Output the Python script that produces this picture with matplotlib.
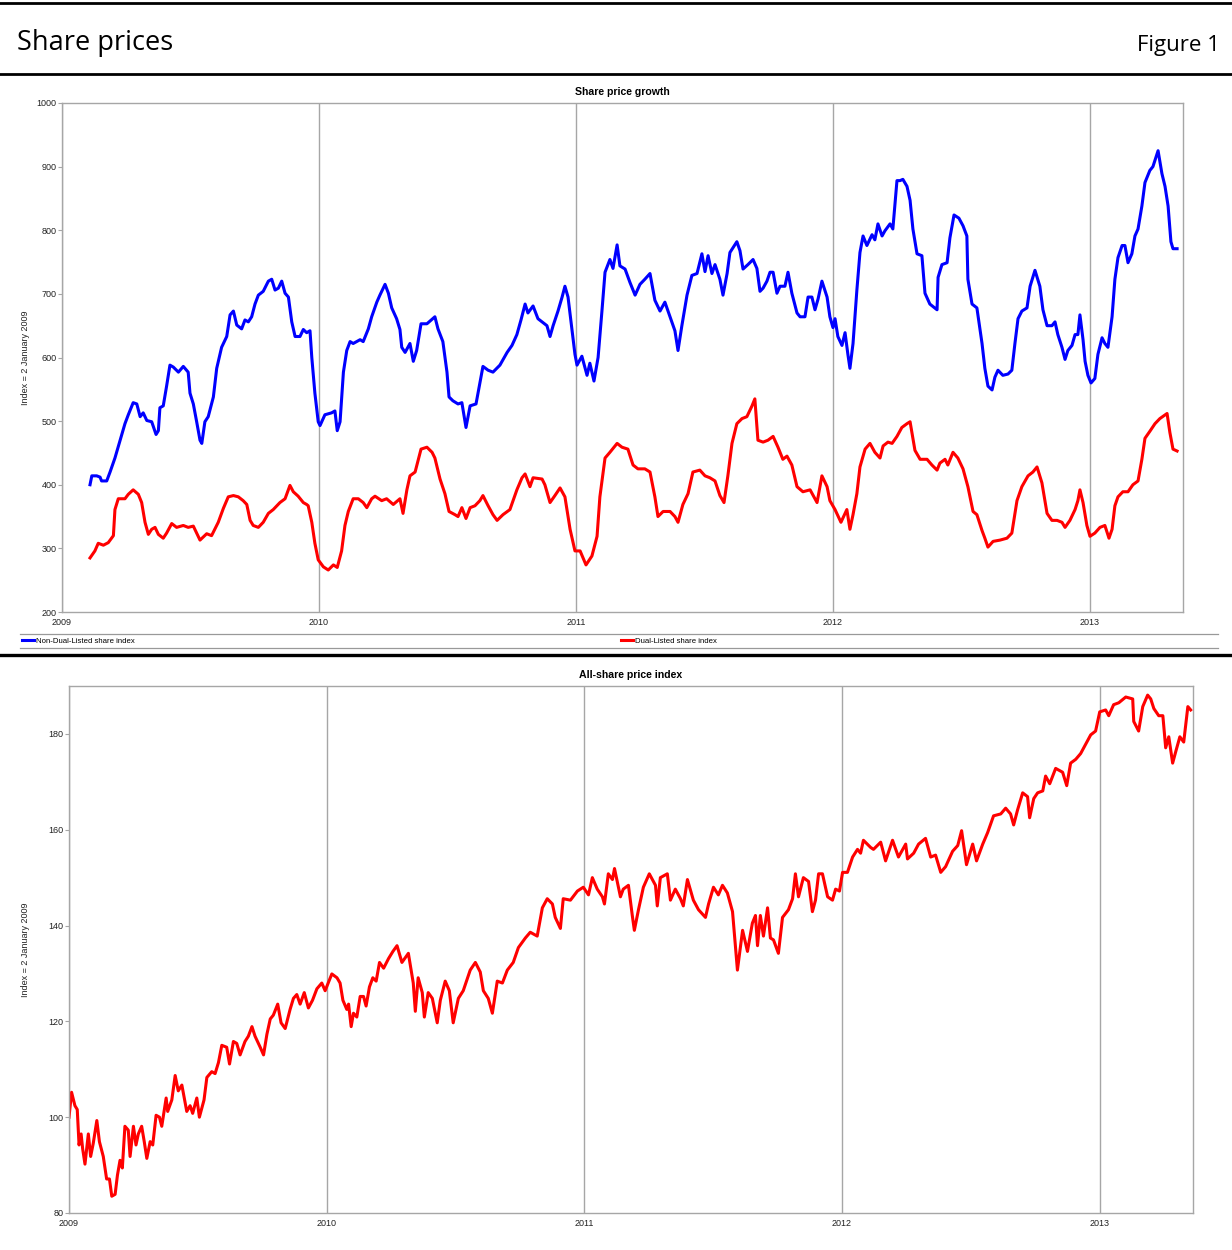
import numpy as np
import matplotlib
matplotlib.use("Agg")
import matplotlib.pyplot as plt
from matplotlib.lines import Line2D

plt.rcParams['font.family'] = ['Liberation Sans', 'DejaVu Sans']

# time is given as years after 1 January 2009
non_dual_t = [
    0.109, 0.116, 0.135, 0.148, 0.154, 0.174, 0.187, 0.206, 0.226, 0.245,
    0.258, 0.277, 0.291, 0.304, 0.316, 0.330, 0.349, 0.366, 0.375, 0.381,
    0.394, 0.407, 0.420, 0.433, 0.453, 0.472, 0.491, 0.498, 0.511, 0.524,
    0.537, 0.544, 0.556, 0.569, 0.589, 0.602, 0.621, 0.641, 0.654, 0.667,
    0.680, 0.699, 0.712, 0.725, 0.738, 0.751, 0.764, 0.783, 0.803, 0.816,
    0.829, 0.842, 0.855, 0.868, 0.881, 0.894, 0.907, 0.926, 0.939, 0.952,
    0.965, 0.972, 0.984, 0.997, 1.004, 1.023, 1.049, 1.062, 1.071, 1.082,
    1.095, 1.108, 1.121, 1.133, 1.160, 1.172, 1.192, 1.205, 1.225, 1.237,
    1.257, 1.270, 1.283, 1.302, 1.315, 1.322, 1.335, 1.354, 1.367, 1.380,
    1.397, 1.420, 1.451, 1.463, 1.482, 1.498, 1.506, 1.521, 1.541, 1.556,
    1.572, 1.588, 1.611, 1.626, 1.638, 1.658, 1.677, 1.704, 1.732, 1.751,
    1.770, 1.786, 1.802, 1.813, 1.833, 1.852, 1.887, 1.899, 1.911, 1.930,
    1.946, 1.957, 1.969, 1.984, 1.996, 2.004, 2.023, 2.043, 2.054, 2.070,
    2.086, 2.101, 2.113, 2.132, 2.144, 2.160, 2.171, 2.191, 2.210, 2.230,
    2.249, 2.268, 2.288, 2.307, 2.327, 2.346, 2.366, 2.385, 2.397, 2.412,
    2.432, 2.451, 2.471, 2.490, 2.502, 2.514, 2.529, 2.541, 2.560, 2.572,
    2.588, 2.599, 2.626, 2.638, 2.650, 2.669, 2.689, 2.704, 2.716, 2.728,
    2.743, 2.755, 2.767, 2.782, 2.794, 2.813, 2.825, 2.840, 2.860, 2.872,
    2.891, 2.903, 2.918, 2.930, 2.942, 2.957, 2.977, 2.988, 3.000, 3.008,
    3.019, 3.035, 3.047, 3.058, 3.066, 3.078, 3.093, 3.105, 3.117, 3.132,
    3.152, 3.163, 3.175, 3.191, 3.202, 3.222, 3.233, 3.249, 3.261, 3.272,
    3.288, 3.300, 3.311, 3.327, 3.346, 3.358, 3.377, 3.405, 3.409, 3.424,
    3.444, 3.455, 3.471, 3.490, 3.506, 3.521, 3.525, 3.541, 3.560, 3.580,
    3.591, 3.603, 3.619, 3.630, 3.642, 3.661, 3.681, 3.696, 3.708, 3.720,
    3.735, 3.755, 3.767, 3.786, 3.805, 3.817, 3.833, 3.852, 3.864, 3.875,
    3.891, 3.903, 3.914, 3.930, 3.942, 3.953, 3.961, 3.973, 3.981, 3.992,
    4.004, 4.019, 4.031, 4.047, 4.058, 4.070, 4.086, 4.097, 4.109, 4.125,
    4.136, 4.148, 4.163, 4.175, 4.187, 4.202, 4.214, 4.233, 4.245, 4.265,
    4.280, 4.292, 4.304, 4.315, 4.323, 4.339,
]
non_dual_v = [
    400, 414, 414, 412, 406, 406, 420, 442, 470, 496,
    510, 529, 527, 507, 513, 501, 499, 479, 485, 521,
    524, 555, 588, 585, 577, 586, 577, 544, 527, 499,
    470, 465, 499, 507, 538, 583, 616, 633, 667, 673,
    651, 645, 659, 656, 664, 684, 698, 704, 720, 723,
    706, 709, 720, 701, 695, 656, 633, 633, 644, 639,
    642, 600, 544, 499, 493, 510, 513, 516, 485, 499,
    577, 611, 625, 622, 628, 625, 645, 664, 687, 698,
    715, 701, 678, 661, 644, 616, 608, 622, 594, 611,
    653, 653, 664, 645, 625, 577, 538, 532, 527, 529,
    490, 524, 527, 560, 586, 580, 577, 588, 608, 619,
    636, 659, 684, 670, 681, 661, 650, 633, 650, 673,
    695, 712, 695, 645, 605, 588, 602, 572, 591, 563,
    600, 673, 734, 754, 740, 777, 744, 739, 718, 698,
    715, 723, 732, 690, 673, 687, 664, 642, 611, 650,
    698, 729, 732, 763, 735, 760, 732, 746, 723, 698,
    732, 765, 782, 768, 739, 746, 754, 740, 704, 709,
    720, 734, 734, 701, 712, 712, 734, 701, 670, 664,
    664, 695, 695, 675, 692, 720, 695, 664, 647, 661,
    633, 619, 639, 605, 583, 622, 706, 765, 791, 776,
    793, 785, 810, 791, 799, 810, 802, 878, 878, 880,
    869, 847, 802, 763, 760, 701, 684, 675, 726, 746,
    749, 788, 824, 819, 807, 791, 723, 684, 678, 622,
    583, 555, 549, 569, 580, 572, 574, 580, 622, 661,
    673, 678, 712, 737, 712, 675, 650, 650, 656, 636,
    616, 597, 611, 619, 636, 636, 667, 628, 594, 572,
    560, 567, 605, 631, 622, 616, 664, 723, 757, 776,
    776, 749, 763, 791, 802, 838, 875, 894, 900, 925,
    889, 869, 838, 782, 771, 771,
]

dual_t = [
    0.109, 0.128, 0.141, 0.161, 0.180, 0.200, 0.206, 0.219, 0.245, 0.258,
    0.277, 0.297, 0.310, 0.323, 0.336, 0.349, 0.362, 0.375, 0.394, 0.407,
    0.427, 0.446, 0.472, 0.491, 0.511, 0.537, 0.563, 0.582, 0.608, 0.628,
    0.647, 0.667, 0.686, 0.705, 0.719, 0.732, 0.744, 0.764, 0.783, 0.803,
    0.822, 0.848, 0.868, 0.887, 0.900, 0.919, 0.939, 0.952, 0.958, 0.972,
    0.984, 0.997, 1.017, 1.036, 1.056, 1.071, 1.088, 1.101, 1.114, 1.133,
    1.153, 1.172, 1.186, 1.205, 1.218, 1.244, 1.263, 1.289, 1.315, 1.327,
    1.342, 1.354, 1.374, 1.385, 1.397, 1.420, 1.440, 1.451, 1.471, 1.490,
    1.506, 1.529, 1.541, 1.556, 1.572, 1.588, 1.607, 1.626, 1.638, 1.658,
    1.677, 1.693, 1.716, 1.743, 1.770, 1.790, 1.802, 1.821, 1.833, 1.868,
    1.879, 1.899, 1.918, 1.938, 1.957, 1.977, 1.996, 2.016, 2.039, 2.062,
    2.082, 2.093, 2.113, 2.132, 2.160, 2.179, 2.202, 2.222, 2.241, 2.268,
    2.288, 2.307, 2.319, 2.339, 2.366, 2.385, 2.397, 2.416, 2.436, 2.455,
    2.482, 2.502, 2.521, 2.541, 2.560, 2.576, 2.591, 2.607, 2.626, 2.646,
    2.665, 2.685, 2.696, 2.708, 2.728, 2.747, 2.767, 2.786, 2.805, 2.821,
    2.840, 2.860, 2.883, 2.911, 2.938, 2.957, 2.977, 2.988, 3.008, 3.031,
    3.054, 3.066, 3.078, 3.093, 3.105, 3.125, 3.144, 3.163, 3.183, 3.195,
    3.214, 3.230, 3.249, 3.268, 3.288, 3.300, 3.319, 3.339, 3.366, 3.385,
    3.405, 3.416, 3.436, 3.447, 3.467, 3.486, 3.506, 3.525, 3.545, 3.560,
    3.580, 3.591, 3.603, 3.623, 3.650, 3.677, 3.696, 3.716, 3.735, 3.759,
    3.778, 3.794, 3.813, 3.833, 3.852, 3.872, 3.891, 3.903, 3.922, 3.942,
    3.953, 3.961, 3.973, 3.988, 4.000, 4.019, 4.039, 4.058, 4.074, 4.086,
    4.097, 4.109, 4.128, 4.148, 4.167, 4.187, 4.202, 4.214, 4.233, 4.253,
    4.272, 4.300, 4.311, 4.323, 4.339,
]
dual_v = [
    285, 296, 308, 305, 309, 320, 361, 378, 378, 385,
    392, 385, 372, 341, 322, 330, 333, 322, 316, 324,
    339, 333, 336, 333, 335, 313, 323, 320, 341, 363,
    381, 383, 381, 375, 369, 344, 336, 333, 341, 355,
    361, 372, 378, 399, 389, 382, 372, 369, 367, 341,
    308, 282, 271, 266, 274, 270, 296, 336, 358, 378,
    378, 372, 364, 378, 382, 375, 378, 369, 378, 355,
    392, 414, 420, 437, 456, 459, 451, 442, 409, 386,
    358, 353, 350, 364, 347, 364, 367, 375, 383, 367,
    353, 344, 353, 361, 392, 411, 417, 397, 411, 409,
    400, 372, 383, 395, 381, 330, 296, 296, 274, 288,
    319, 381, 442, 451, 465, 459, 456, 431, 425, 425,
    420, 381, 350, 358, 358, 350, 341, 369, 386, 420,
    423, 414, 411, 406, 383, 372, 414, 465, 496, 504,
    507, 524, 535, 470, 467, 470, 476, 459, 440, 445,
    431, 397, 389, 392, 372, 414, 397, 375, 361, 341,
    361, 330, 353, 386, 428, 456, 465, 451, 442, 461,
    467, 465, 476, 490, 496, 499, 454, 440, 440, 431,
    423, 434, 440, 431, 451, 442, 425, 397, 358, 353,
    328, 316, 302, 311, 313, 316, 324, 375, 397, 414,
    420, 428, 403, 355, 344, 344, 341, 333, 344, 361,
    375, 392, 372, 336, 319, 324, 333, 336, 316, 330,
    367, 381, 389, 389, 400, 406, 440, 473, 484, 496,
    504, 512, 482, 456, 453,
]

all_share_t = [
    0.000, 0.010, 0.023, 0.032, 0.039, 0.047, 0.053, 0.062, 0.075, 0.084,
    0.094, 0.108, 0.118, 0.133, 0.146, 0.157, 0.166, 0.179, 0.188, 0.198,
    0.207, 0.217, 0.230, 0.237, 0.250, 0.260, 0.269, 0.282, 0.292, 0.302,
    0.315, 0.325, 0.338, 0.351, 0.360, 0.377, 0.383, 0.399, 0.412, 0.424,
    0.438, 0.457, 0.470, 0.480, 0.496, 0.506, 0.524, 0.535, 0.554, 0.567,
    0.580, 0.593, 0.612, 0.623, 0.638, 0.651, 0.664, 0.683, 0.696, 0.710,
    0.722, 0.742, 0.755, 0.768, 0.781, 0.793, 0.810, 0.823, 0.839, 0.858,
    0.871, 0.884, 0.897, 0.913, 0.929, 0.945, 0.962, 0.981, 0.994, 1.006,
    1.020, 1.040, 1.052, 1.063, 1.078, 1.085, 1.095, 1.104, 1.117, 1.130,
    1.143, 1.153, 1.166, 1.179, 1.192, 1.205, 1.221, 1.240, 1.257, 1.273,
    1.292, 1.317, 1.336, 1.344, 1.355, 1.371, 1.379, 1.394, 1.410, 1.429,
    1.441, 1.460, 1.476, 1.491, 1.511, 1.530, 1.557, 1.577, 1.596, 1.608,
    1.627, 1.643, 1.662, 1.682, 1.701, 1.724, 1.744, 1.771, 1.790, 1.817,
    1.837, 1.856, 1.876, 1.887, 1.907, 1.918, 1.946, 1.973, 1.996, 2.016,
    2.031, 2.050, 2.070, 2.078, 2.093, 2.109, 2.117, 2.140, 2.151, 2.171,
    2.186, 2.194, 2.210, 2.229, 2.252, 2.276, 2.283, 2.295, 2.322, 2.334,
    2.353, 2.373, 2.384, 2.400, 2.423, 2.443, 2.470, 2.482, 2.501, 2.520,
    2.536, 2.555, 2.575, 2.594, 2.614, 2.633, 2.652, 2.664, 2.672, 2.683,
    2.695, 2.711, 2.722, 2.734, 2.753, 2.769, 2.792, 2.808, 2.819, 2.831,
    2.850, 2.870, 2.885, 2.897, 2.909, 2.924, 2.944, 2.963, 2.975, 2.990,
    3.002, 3.021, 3.041, 3.060, 3.072, 3.083, 3.111, 3.122, 3.150, 3.169,
    3.196, 3.219, 3.247, 3.254, 3.278, 3.297, 3.324, 3.344, 3.363, 3.383,
    3.402, 3.429, 3.449, 3.464, 3.483, 3.507, 3.522, 3.546, 3.565, 3.588,
    3.616, 3.635, 3.654, 3.666, 3.681, 3.701, 3.720, 3.728, 3.744, 3.759,
    3.779, 3.790, 3.806, 3.829, 3.856, 3.872, 3.887, 3.907, 3.926, 3.946,
    3.965, 3.984, 4.000, 4.023, 4.035, 4.054, 4.074, 4.101, 4.128, 4.132,
    4.151, 4.167, 4.186, 4.198, 4.210, 4.229, 4.245, 4.256, 4.268, 4.283,
    4.295, 4.311, 4.326, 4.342, 4.353,
]
all_share_v = [
    100.0, 105.2, 102.4, 101.6, 94.2, 96.5, 93.4, 90.2, 96.5, 91.8,
    94.5, 99.3, 94.9, 91.8, 87.1, 87.1, 83.5, 83.9, 87.9, 91.0,
    89.4, 98.1, 97.3, 91.8, 98.1, 94.2, 96.5, 98.1, 94.9, 91.4,
    94.9, 94.2, 100.4, 100.0, 98.1, 104.0, 101.2, 103.6, 108.7, 105.5,
    106.7, 101.2, 102.4, 100.8, 104.0, 100.0, 103.6, 108.3, 109.5, 109.1,
    111.4, 115.0, 114.6, 111.1, 115.8, 115.4, 113.0, 115.8, 116.9, 118.9,
    116.9, 114.6, 113.0, 117.3, 120.5, 121.3, 123.6, 119.7, 118.5, 122.5,
    124.8, 125.6, 123.6, 126.0, 122.8, 124.4, 126.8, 128.0, 126.4, 128.0,
    129.9, 129.1, 128.0, 124.4, 122.5, 123.6, 118.9, 121.7, 120.9, 125.2,
    125.2, 123.2, 127.2, 129.1, 128.4, 132.3, 131.1, 133.1, 134.6, 135.8,
    132.3, 134.2, 128.0, 122.1, 129.1, 126.0, 120.9, 126.0, 124.8, 119.7,
    124.4, 128.4, 126.4, 119.7, 124.8, 126.4, 130.7, 132.3, 130.3, 126.4,
    124.8, 121.7, 128.4, 128.0, 130.7, 132.3, 135.4, 137.4, 138.6, 137.8,
    143.7, 145.6, 144.5, 141.7, 139.4, 145.6, 145.3, 147.2, 148.0, 146.4,
    150.0, 147.6, 146.0, 144.5, 150.8, 149.6, 151.9, 146.0, 147.6, 148.4,
    142.1, 139.0, 143.3, 148.0, 150.8, 148.4, 144.1, 150.0, 150.8, 145.3,
    147.6, 145.6, 144.1, 149.6, 145.3, 143.3, 141.7, 144.5, 148.0, 146.4,
    148.4, 146.8, 142.9, 130.7, 139.0, 134.6, 140.5, 142.1, 135.8, 142.1,
    137.8, 143.7, 137.4, 137.0, 134.2, 141.7, 143.3, 145.6, 150.8, 146.0,
    150.0, 149.2, 142.9, 145.3, 150.8, 150.8, 146.0, 145.3, 147.6, 147.2,
    151.1, 151.1, 154.3, 155.9, 155.1, 157.8, 156.3, 155.9, 157.4, 153.5,
    157.8, 154.3, 157.0, 153.9, 155.1, 157.0, 158.2, 154.3, 154.7, 151.1,
    152.3, 155.5, 156.7, 159.8, 152.7, 157.0, 153.5, 157.0, 159.4, 162.9,
    163.3, 164.5, 163.3, 161.0, 164.1, 167.7, 166.9, 162.5, 166.5, 167.7,
    168.1, 171.2, 169.6, 172.8, 172.0, 169.2, 173.9, 174.7, 175.9, 177.9,
    179.8, 180.6, 184.6, 185.0, 183.8, 186.1, 186.5, 187.7, 187.3, 182.6,
    180.6, 185.7, 188.1, 187.3, 185.3, 183.8, 183.8, 177.1, 179.4, 173.9,
    176.3, 179.4, 178.3, 185.7, 185.0,
]

year_ticks = [2009, 2010, 2011, 2012, 2013]
growth_ticks = [200, 300, 400, 500, 600, 700, 800, 900, 1000]
all_share_ticks = [80, 100, 120, 140, 160, 180]

W, H = 1232, 1250
fig = plt.figure(figsize=(W / 100, H / 100), dpi=100)
GRAY = '#a6a6a6'


def px_axes(x0, y0, x1, y1):
    return fig.add_axes([x0 / W, 1 - y1 / H, (x1 - x0) / W, (y1 - y0) / H])


def hline(y, x0=0, x1=W, color='black', lw=2.0):
    fig.add_artist(Line2D([x0 / W, x1 / W], [1 - y / H, 1 - y / H],
                          transform=fig.transFigure, color=color, lw=lw))


def style(ax, ylim, yticks, title, label_x):
    ax.set_xlim(2009, 2013.362)
    ax.set_ylim(*ylim)
    ax.set_xticks(year_ticks)
    ax.set_xticklabels([str(y) for y in year_ticks])
    ax.set_yticks(yticks)
    ax.grid(axis='x', color=GRAY, lw=1.0)
    ax.set_axisbelow(True)
    for s in ax.spines.values():
        s.set_color(GRAY)
        s.set_linewidth(1.0)
    ax.tick_params(axis='x', length=0, labelsize=6.5, pad=4, labelcolor='#222222')
    ax.tick_params(axis='y', length=3, color=GRAY, width=0.8, labelsize=6.5,
                   pad=1, labelcolor='#222222')
    ax.set_title(title, fontsize=7.6, fontweight='bold', pad=6)
    ax.set_ylabel('Index = 2 January 2009', fontsize=6.5, color='#222222')
    ax.yaxis.set_label_coords(label_x, 0.5)


# header
hline(3, lw=2.0)
hline(74, lw=2.0)
fig.text(17 / W, 1 - 43 / H, 'Share prices', fontsize=19.5, va='center', ha='left',
         family=['Open Sans', 'DejaVu Sans'])
fig.text(1220 / W, 1 - 46 / H, 'Figure 1', fontsize=16, va='center', ha='right',
         family=['Open Sans', 'DejaVu Sans'])

# top panel
ax1 = px_axes(62, 103, 1183, 612)
l_nd, = ax1.plot(2009 + np.array(non_dual_t), non_dual_v, color='#0000ff', lw=2.2,
                 label='Non-Dual-Listed share index')
l_d, = ax1.plot(2009 + np.array(dual_t), dual_v, color='#ff0000', lw=2.2,
                label='Dual-Listed share index')
style(ax1, (200, 1000), growth_ticks, 'Share price growth', -0.0285)

hline(634, 20, 1218, color='#999999', lw=0.9)
hline(648, 20, 1218, color='#999999', lw=0.9)
for handle, xpos in [(l_nd, 22), (l_d, 621)]:
    fig.legend(handles=[handle], loc='center left',
               bbox_to_anchor=(xpos / W, 1 - 641 / H), frameon=False,
               fontsize=5.6, handlelength=1.5, handletextpad=0.35,
               borderpad=0, borderaxespad=0)

hline(655, lw=2.4)

# bottom panel
ax2 = px_axes(69, 686, 1193, 1213)
ax2.plot(2009 + np.array(all_share_t), all_share_v, color='#ff0000', lw=2.2)
style(ax2, (80, 190), all_share_ticks, 'All-share price index', -0.0347)

fig.savefig('out.png', dpi=100)
